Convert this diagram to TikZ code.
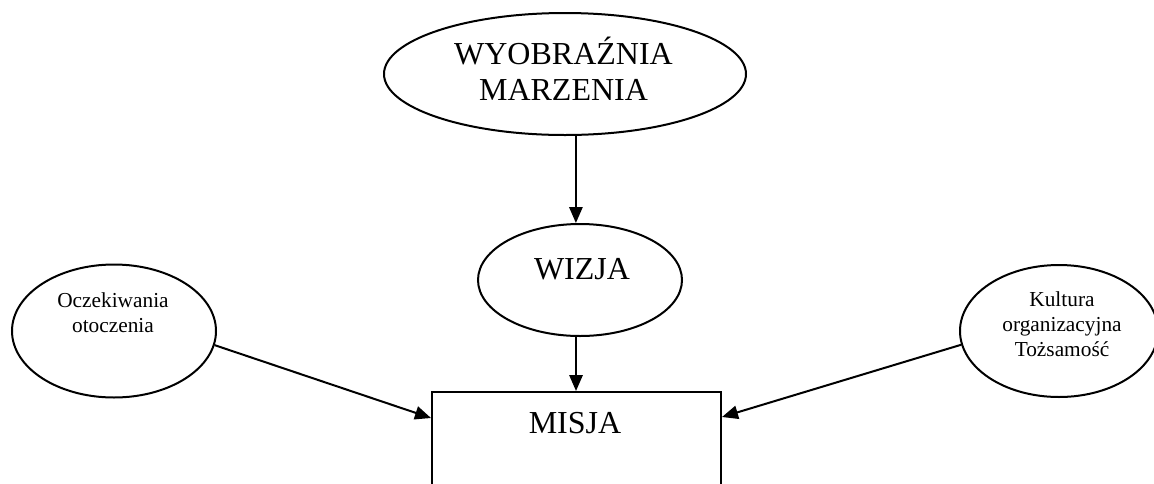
\documentclass[tikz,border=0pt]{standalone}
\usepackage{fontspec}
\setmainfont{Liberation Serif}
\usetikzlibrary{shapes.geometric,arrows.meta,calc}
\begin{document}
\begin{tikzpicture}[x=0.75pt,y=-0.75pt,
  oval/.style={draw,ellipse,line width=1.5pt,inner sep=0pt},
  box/.style={draw,rectangle,line width=1.5pt,inner sep=0pt},
  big/.style={font=\fontsize{24}{26.5}\selectfont,align=center,anchor=base,inner sep=0pt},
  small/.style={font=\fontsize{16}{18.4}\selectfont,align=center,anchor=base,inner sep=0pt},
  arr/.style={line width=1.5pt,-{Triangle[length=12pt,width=10pt]}}]
\useasboundingbox (0,0) rectangle (1154,483);
\clip (0,0) rectangle (1154,483);

% shapes
\node[oval,minimum width=271.5pt,minimum height=91.5pt] (wyo) at (565,74) {};
\node[oval,minimum width=153pt,minimum height=84pt] (wizja) at (580,280) {};
\node[oval,minimum width=153pt,minimum height=99.75pt] (ocz) at (114,331) {};
\node[oval,minimum width=148.5pt,minimum height=99pt] (kult) at (1059,331) {};
\node[box,anchor=north,minimum width=216.75pt,minimum height=120pt] (misja) at (576.5,391) {};

% texts (multi-line nodes are placed by the baseline of their last line)
\node[big] (wyoT) at (563.5,100) {WYOBRAŹNIA\\MARZENIA};
\node[big] (wizT) at (582,279) {WIZJA};
\node[big] (misT) at (575,433) {MISJA};
\node[small] (oczT) at (113,332) {Oczekiwania\\otoczenia};
\node[small] (kulT) at (1062,356) {Kultura\\organizacyjna\\Tożsamość};

% connectors
\draw[arr] (wyo.-80) -- (wyo.-80 |- wizja.north);
\draw[arr] (wizja.-94) -- (wizja.-94 |- misja.north);
\draw[arr] (ocz.-8) -- ($(misja.north west)+(0,27)$);
\draw[arr] (kult.-172) -- ($(misja.north east)+(0,26)$);
\end{tikzpicture}
\end{document}
